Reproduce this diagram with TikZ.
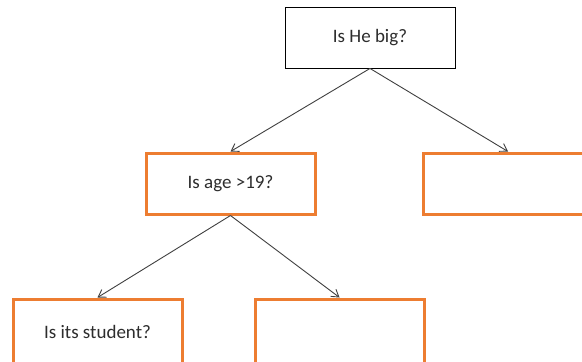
\documentclass[tikz,border=0pt]{standalone}
\usepackage{fontspec}
\setmainfont{Carlito}
\usepackage{xcolor}
\usetikzlibrary{arrows.meta}
\definecolor{naranja}{RGB}{237,125,49}
\definecolor{flecha}{RGB}{64,64,64}
\definecolor{texto}{RGB}{45,45,45}
\tikzset{
  raiz/.style={draw=black,line width=0.9pt,fill=white,text=texto,minimum width=170pt,minimum height=61pt,inner sep=0pt,font=\fontsize{19}{22}\selectfont},
  pregunta/.style={draw=naranja,line width=3pt,fill=white,text=texto,minimum width=169pt,minimum height=61pt,inner sep=0pt,font=\fontsize{19}{22}\selectfont},
  rama/.style={-{Straight Barb[length=7pt,width=9pt]},flecha,line width=0.9pt}
}
\begin{document}
\begin{tikzpicture}[x=1pt,y=-1pt]
\useasboundingbox (0,0) rectangle (582,362);
\clip (0,0) rectangle (582,362);
\fill[white] (0,0) rectangle (582,362);
% nivel 0
\node[raiz] (grande) at (370,37.5) {Is He big?};
% nivel 1
\node[pregunta] (edad) at (230.5,183.5) {Is age >19?};
\node[pregunta] (der) at (508,183.5) {};
% nivel 2
\node[pregunta,minimum height=66pt] (estud) at (97.5,332) {Is its student?};
\node[pregunta,minimum height=66pt] (otro) at (339.5,332) {};
% ramas
\draw[rama] (grande.south)--(edad.north);
\draw[rama] (grande.south)--(der.north);
\draw[rama] (edad.south)--(estud.north);
\draw[rama] (edad.south)--(otro.north);
\end{tikzpicture}
\end{document}
